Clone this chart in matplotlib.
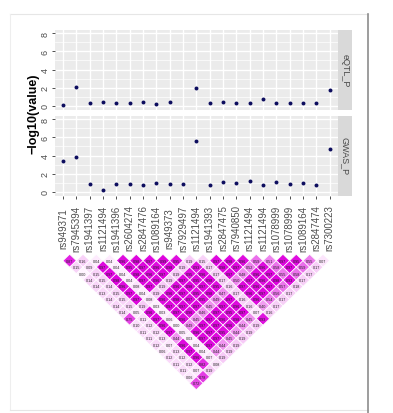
import matplotlib
matplotlib.use('Agg')
import matplotlib.pyplot as plt
import numpy as np
from matplotlib.collections import PolyCollection
from matplotlib.colors import LinearSegmentedColormap
from matplotlib.lines import Line2D

plt.rcParams['font.family'] = ['Liberation Sans', 'DejaVu Sans']

snps = ["rs949371", "rs7945394", "rs1941397", "rs1121494", "rs1941396", "rs2604274",
        "rs2847476", "rs1089164", "rs949373", "rs7929497", "rs1121494", "rs1941393",
        "rs2847475", "rs7940850", "rs1121494", "rs1121494", "rs1078999", "rs1078999",
        "rs1089164", "rs2847474", "rs7300223"]

eqtl_p = [0.07, 2.1, 0.33, 0.4, 0.3, 0.3, 0.45, 0.2, 0.45, np.nan, 2.0,
          0.33, 0.4, 0.3, 0.3, 0.74, 0.33, 0.3, 0.37, 0.33, 1.7]
gwas_p = [3.4, 3.85, 0.92, 0.22, 0.92, 0.88, 0.77, 0.95, 0.91, 0.92, 5.65,
          0.8, 1.05, 1.03, 1.2, 0.72, 1.08, 0.91, 0.94, 0.72, 4.7]

facet_names = ["eQTL_P", "GWAS_P"]
y_ticks = [0, 2, 4, 6, 8]

# LD values, one list per SNP distance (row 1 = neighbouring SNPs)
ld_rows = [
    [0.87, 0.16, 0.04, 0.04, 0.96, 0.98, 0.97, 0.99, 0.95, 0.19, 0.15, 0.97, 0.98, 0.96, 0.59, 0.51, 0.97, 0.95, 0.55, 0.07],
    [0.15, 0.09, 0.97, 0.04, 0.95, 0.97, 0.96, 0.98, 0.19, 0.93, 0.17, 0.98, 0.97, 0.52, 0.96, 0.58, 0.97, 0.59, 0.17],
    [0.00, 0.15, 0.97, 0.04, 0.98, 0.96, 0.97, 0.19, 0.95, 0.96, 0.17, 0.97, 0.48, 0.96, 0.97, 0.55, 0.58, 0.17],
    [0.14, 0.15, 0.98, 0.04, 0.97, 0.96, 0.19, 0.97, 0.95, 0.98, 0.17, 0.50, 0.97, 0.96, 0.98, 0.93, 0.17],
    [0.14, 0.14, 0.96, 0.08, 0.97, 0.19, 0.96, 0.98, 0.97, 0.95, 0.16, 0.97, 0.96, 0.97, 0.57, 0.18],
    [0.13, 0.15, 0.97, 0.04, 0.19, 0.96, 0.97, 0.95, 0.98, 0.47, 0.17, 0.96, 0.97, 0.56, 0.17],
    [0.14, 0.15, 0.97, 0.08, 0.96, 0.98, 0.97, 0.95, 0.49, 0.97, 0.16, 0.96, 0.54, 0.17],
    [0.14, 0.15, 0.19, 0.03, 0.97, 0.97, 0.97, 0.45, 0.97, 0.96, 0.16, 0.40, 0.17],
    [0.14, 0.05, 0.96, 0.03, 0.97, 0.96, 0.46, 0.97, 0.95, 0.97, 0.07, 0.16],
    [0.75, 0.11, 0.97, 0.06, 0.96, 0.45, 0.97, 0.96, 0.98, 0.45, 0.93],
    [0.10, 0.12, 0.96, 0.00, 0.49, 0.97, 0.97, 0.96, 0.44, 0.19],
    [0.11, 0.12, 0.97, 0.05, 0.96, 0.97, 0.95, 0.44, 0.19],
    [0.11, 0.13, 0.44, 0.03, 0.97, 0.97, 0.45, 0.19],
    [0.12, 0.07, 0.96, 0.04, 0.97, 0.44, 0.19],
    [0.06, 0.13, 0.97, 0.04, 0.44, 0.19],
    [0.12, 0.12, 0.96, 0.07, 0.19],
    [0.11, 0.12, 0.82, 0.08],
    [0.11, 0.07, 0.19],
    [0.06, 0.78],
    [0.72],
]

W, H = 393, 414
fig = plt.figure(figsize=(W / 100, H / 100), dpi=100)
fig.patch.set_facecolor('white')


def ax_at(x0, y0, x1, y1):
    return fig.add_axes([x0 / W, 1 - y1 / H, (x1 - x0) / W, (y1 - y0) / H])


n = len(snps)
pos = np.arange(1, n + 1)
XL, XR = 55, 337.6
xlim = (0.4, n + 0.6)

panel_rows = [(30.5, 110.5), (116.5, 196.5)]
series = [eqtl_p, gwas_p]
for idx, ((y0, y1), vals, name) in enumerate(zip(panel_rows, series, facet_names)):
    ax = ax_at(XL, y0, XR, y1)
    ax.set_facecolor('#EBEBEB')
    ax.set_xlim(*xlim)
    ax.set_ylim(-0.4, 8.4)
    ax.set_xticks(pos)
    ax.set_yticks(y_ticks)
    ax.set_yticks([1, 3, 5, 7], minor=True)
    ax.grid(which='major', color='white', lw=1.0)
    ax.grid(which='minor', axis='y', color='white', lw=0.5)
    ax.set_axisbelow(True)
    for s in ax.spines.values():
        s.set_visible(False)
    ax.scatter(pos, vals, s=8, color='#0D0D5E', zorder=3, linewidths=0)
    ax.set_yticklabels([str(t) for t in y_ticks])
    ax.tick_params(axis='y', which='major', length=2.5, width=0.6, color='#333333',
                   labelsize=6.5, labelcolor='#4D4D4D', pad=1.5)
    ax.tick_params(axis='y', which='minor', length=0)
    for t in ax.get_yticklabels():
        t.set_rotation(90)
        t.set_va('center')
    if idx == 0:
        ax.tick_params(axis='x', length=0, labelbottom=False)
    else:
        ax.set_xticklabels(snps)
        ax.tick_params(axis='x', length=2.5, width=0.6, color='#333333',
                       labelsize=7, labelcolor='#4D4D4D', pad=20.5)
        for t in ax.get_xticklabels():
            t.set_rotation(90)
            t.set_va('center')
            t.set_ha('center')
    sax = ax_at(338, y0, 352.3, y1)
    sax.set_facecolor('#D9D9D9')
    sax.set_xticks([])
    sax.set_yticks([])
    for s in sax.spines.values():
        s.set_visible(False)
    sax.text(0.5, 0.5, name, rotation=-90, ha='center', va='center', fontsize=6.5,
             color='#4A4A4A', transform=sax.transAxes)

fig.text(33 / W, 1 - 113.5 / H, '\u2212log10(value)', rotation=90, fontweight='bold',
         fontsize=9, ha='center', va='center')

# LD triangle
cmap = LinearSegmentedColormap.from_list('ld', [(0, '#FFF4FF'), (0.2, '#F6C8F6'),
                                                 (0.5, '#EE88EE'), (1, '#DD00DD')])
LT, LB = 250, 400
ppu = (XR - XL) / (xlim[1] - xlim[0])
lax = ax_at(XL, LT, XR, LB)
lax.set_xlim(*xlim)
lax.set_ylim(-(LB - LT) / ppu, 0)
lax.axis('off')
y_first = -(261.7 - LT) / ppu
dy = 6.45 / ppu
verts, cols, cells = [], [], []
for d, row in enumerate(ld_rows, start=1):
    for k, v in enumerate(row, start=1):
        i, j = k, k + d
        cx = (pos[i - 1] + pos[j - 1]) / 2
        cy = y_first - (d - 1) * dy
        verts.append([(cx - 0.5, cy), (cx, cy + dy), (cx + 0.5, cy), (cx, cy - dy)])
        cols.append(cmap(v))
        cells.append((cx, cy, v))
pc = PolyCollection(verts, facecolors=cols, edgecolors='white', linewidths=0.5)
lax.add_collection(pc)
for cx, cy, v in cells:
    lax.text(cx, cy, f"{v:.2f}", ha='center', va='center', fontsize=2.7, color='#222222')

# outer frame
def fline(x0, y0, x1, y1, color, lw):
    fig.add_artist(Line2D([x0 / W, x1 / W], [1 - y0 / H, 1 - y1 / H], color=color, lw=lw,
                          transform=fig.transFigure))

fline(10, 15, 368, 15, '#E6E6E6', 0.8)
fline(10, 15, 10, 411, '#EEEEEE', 0.8)
fline(10, 411, 368, 411, '#E6E6E6', 0.8)
fline(368, 15, 368, 414, '#8C8C8C', 1.2)

fig.savefig('out.png', dpi=100)
